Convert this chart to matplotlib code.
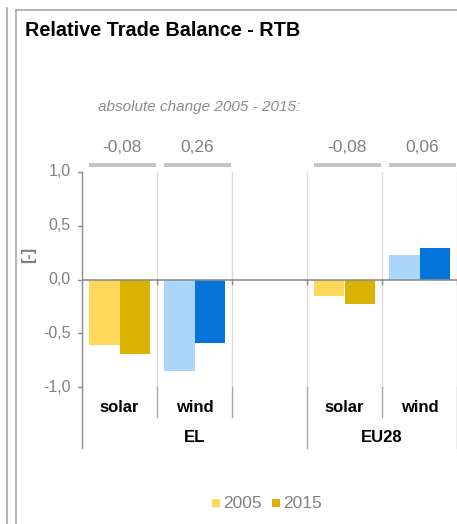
import matplotlib
matplotlib.use("Agg")
import matplotlib.pyplot as plt
from matplotlib.lines import Line2D
from matplotlib.patches import Rectangle

plt.rcParams['font.family'] = ['Liberation Sans', 'DejaVu Sans']

# data
groups = ["EL", "EU28"]
techs = ["solar", "wind"]
years = ["2005", "2015"]
rtb_2005 = [-0.61, -0.85, -0.15, 0.23]   # EL solar, EL wind, EU28 solar, EU28 wind
rtb_2015 = [-0.69, -0.59, -0.23, 0.29]
yticks = [-1.0, -0.5, 0.0, 0.5, 1.0]

# slot layout: EL has an empty third slot
slots = [0, 1, 3, 4]
group_spans = [(0, 3), (3, 5)]
colors_2005 = {"solar": "#FFD75A", "wind": "#ABD5FA"}
colors_2015 = {"solar": "#D9B300", "wind": "#0474DB"}

W, H = 457, 524
fig = plt.figure(figsize=(W / 100, H / 100), dpi=100)
ax = fig.add_axes([82 / W, 1 - 387 / H, 375 / W, 215 / H])
ax.set_xlim(0, 5)
ax.set_ylim(-1, 1)
ax.axis("off")


def py(p):
    # pixel row -> data y
    return 1 - (p - 172) / 107.5


# frame lines around the panel
frame = "#A8A8A8"
fig.add_artist(Line2D([7.5 / W, 7.5 / W], [0, 1 - 8 / H], color=frame, lw=1.2))
fig.add_artist(Line2D([16 / W, 16 / W], [0, 1 - 9.5 / H], color=frame, lw=1.2))
fig.add_artist(Line2D([16 / W, 1], [1 - 9.5 / H, 1 - 9.5 / H], color=frame, lw=1.2))

fig.text(25 / W, 1 - 30 / H, "Relative Trade Balance - RTB", fontsize=14.3,
         fontweight="bold", va="center", ha="left")

# slot separators
for b in range(1, 6):
    ax.plot([b, b], [-1, 1], color="#DCDCDC", lw=1, zorder=0, clip_on=False)
    bottom = py(448) if b in (3, 5) else py(417)
    ax.plot([b, b], [-1, bottom], color="#A5A5A5", lw=1, clip_on=False)
    ax.plot([b, b], [0, py(284)], color="#8C8C8C", lw=1, clip_on=False)

# y axis
ax.plot([0, 0], [1, py(448)], color="#8C8C8C", lw=1, clip_on=False)
for t in yticks:
    ax.plot([-0.055, 0], [t, t], color="#8C8C8C", lw=1, clip_on=False)
    ax.text(-0.15, t, ("%.1f" % t).replace(".", ","), ha="right", va="center",
            fontsize=11.5, color="#808080")
fig.text(29 / W, 1 - 255 / H, "[-]", rotation=90, ha="center", va="center",
         fontsize=11.5, fontweight="bold", color="#808080")

# bars
bw = 0.413
for i, s in enumerate(slots):
    tech = techs[i % 2]
    ax.bar(s + 0.5 - bw / 2, rtb_2005[i], width=bw, color=colors_2005[tech], zorder=2)
    ax.bar(s + 0.5 + bw / 2, rtb_2015[i], width=bw, color=colors_2015[tech], zorder=2)
    ax.text(s + 0.5, py(408), tech, ha="center", va="center", fontsize=12,
            fontweight="bold", clip_on=False)
    # absolute change header
    ax.add_patch(Rectangle((s + 0.09, py(167)), 0.89, 4 / 107.5, color="#C4C4C4",
                           clip_on=False, lw=0))
    change = rtb_2015[i] - rtb_2005[i]
    ax.text(s + 0.53, py(147), ("%.2f" % change).replace(".", ","), ha="center",
            va="center", fontsize=12.5, color="#808080", clip_on=False)

ax.axhline(0, color="#8C8C8C", lw=1.2, zorder=3)

for g, (a, b) in zip(groups, group_spans):
    ax.text((a + b) / 2, py(438), g, ha="center", va="center", fontsize=12,
            fontweight="bold", clip_on=False)

ax.text(0.21, py(107), "absolute change 2005 - 2015:", ha="left", va="center",
        fontsize=11, style="italic", color="#8C8C8C", clip_on=False)

# legend (solar colours only)
leg_x = [212, 272]
for x0, yr, c in zip(leg_x, years, [colors_2005["solar"], colors_2015["solar"]]):
    fig.add_artist(Rectangle((x0 / W, 1 - 507 / H), 8 / W, 8 / H, color=c, lw=0))
    fig.text((x0 + 11) / W, 1 - 503 / H, yr, ha="left", va="center",
             fontsize=12.5, color="#808080")

fig.savefig("out.png", dpi=100)
